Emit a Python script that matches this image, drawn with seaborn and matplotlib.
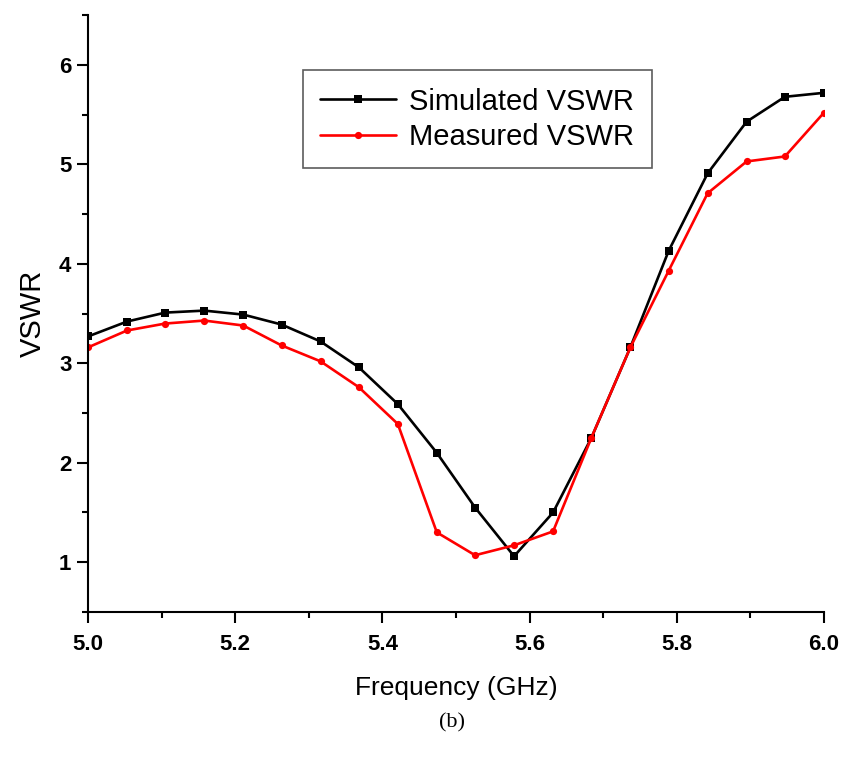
import matplotlib
matplotlib.use("Agg")
import matplotlib.pyplot as plt
import seaborn as sns
import pandas as pd
from matplotlib.ticker import MultipleLocator

freq = [5.000, 5.053, 5.105, 5.158, 5.211, 5.263, 5.316, 5.368, 5.421, 5.474,
        5.526, 5.579, 5.632, 5.684, 5.737, 5.789, 5.842, 5.895, 5.947, 6.000]
simulated = [3.27, 3.42, 3.51, 3.53, 3.49, 3.39, 3.22, 2.96, 2.59, 2.10,
             1.55, 1.06, 1.50, 2.25, 3.16, 4.13, 4.91, 5.43, 5.68, 5.72]
measured = [3.16, 3.33, 3.40, 3.43, 3.38, 3.18, 3.02, 2.76, 2.39, 1.30,
            1.07, 1.17, 1.31, 2.25, 3.16, 3.93, 4.71, 5.03, 5.08, 5.52]
series_names = ["Simulated VSWR", "Measured VSWR"]
x_ticks = [5.0, 5.2, 5.4, 5.6, 5.8, 6.0]
x_ticklabels = ["5.0", "5.2", "5.4", "5.6", "5.8", "6.0"]
y_ticks = [1, 2, 3, 4, 5, 6]
y_ticklabels = ["1", "2", "3", "4", "5", "6"]

sns.set_style("ticks")
plt.rcParams['font.family'] = ['Liberation Sans', 'DejaVu Sans']
plt.rcParams['text.color'] = 'black'
plt.rcParams['axes.labelcolor'] = 'black'
plt.rcParams['xtick.color'] = 'black'
plt.rcParams['ytick.color'] = 'black'

df = pd.concat([
    pd.DataFrame({"Frequency": freq, "VSWR": simulated, "Series": series_names[0]}),
    pd.DataFrame({"Frequency": freq, "VSWR": measured, "Series": series_names[1]}),
])

fig = plt.figure(figsize=(8.42, 7.63), dpi=100)
ax = fig.add_axes([0.1045, 0.198, 0.874, 0.782])

sns.lineplot(data=df, x="Frequency", y="VSWR", hue="Series", style="Series",
             palette={series_names[0]: "black", series_names[1]: "#ff0000"},
             markers={series_names[0]: "s", series_names[1]: "o"},
             dashes=False, linewidth=1.9, markersize=5.2, markeredgewidth=0,
             ax=ax)

ax.set_xlim(5.0, 6.0)
ax.set_ylim(0.5, 6.5)
ax.set_xticks(x_ticks)
ax.set_xticklabels(x_ticklabels)
ax.set_yticks(y_ticks)
ax.set_yticklabels(y_ticklabels)
ax.xaxis.set_minor_locator(MultipleLocator(0.1))
ax.yaxis.set_minor_locator(MultipleLocator(0.5))

for s in ["top", "right"]:
    ax.spines[s].set_visible(False)
for s in ["left", "bottom"]:
    ax.spines[s].set_linewidth(1.5)
    ax.spines[s].set_color("black")

ax.tick_params(axis="both", which="major", direction="out", length=8, width=1.5,
               labelsize=16, colors="black")
ax.tick_params(axis="x", which="major", pad=8)
ax.tick_params(axis="y", which="major", pad=4)
ax.tick_params(axis="both", which="minor", direction="out", length=4.5, width=1.5)
for lbl in ax.get_xticklabels() + ax.get_yticklabels():
    lbl.set_fontweight("bold")

ax.set_xlabel("Frequency (GHz)", fontsize=19, labelpad=15)
ax.set_ylabel("VSWR", fontsize=21, labelpad=9)

leg = ax.legend(loc="upper left", bbox_to_anchor=(0.292, 0.908), borderaxespad=0,
                fontsize=21, frameon=True, fancybox=False, edgecolor="#333333",
                handlelength=2.6, handletextpad=0.45, borderpad=0.6,
                labelspacing=0.25)
leg.get_frame().set_linewidth(1.2)

fig.text(0.537, 0.053, "(b)", fontsize=16, family="Liberation Serif",
         ha="center", va="center")

fig.savefig("out.png", dpi=100)
